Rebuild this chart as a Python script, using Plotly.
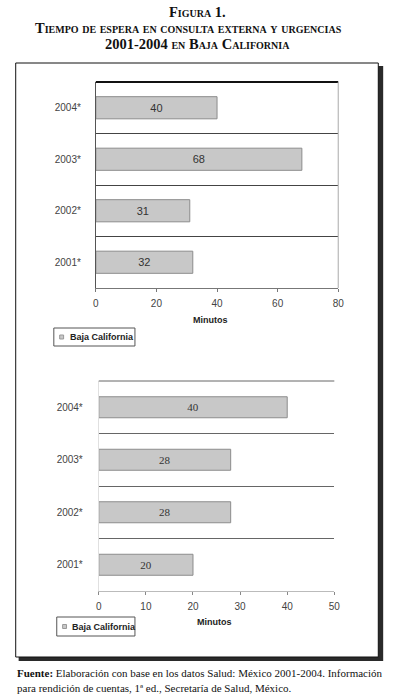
import plotly.graph_objects as go

W, H = 397, 697

years = ["2001*", "2002*", "2003*", "2004*"]
consulta_externa = [32, 31, 68, 40]
urgencias = [20, 28, 28, 40]
ticks_top = [0, 20, 40, 60, 80]
ticks_bottom = [0, 10, 20, 30, 40, 50]
legend_label = "Baja California"
axis_title = "Minutos"


def px(x):
    return x / W


def py(y):
    return 1 - y / H


BAR_FILL = "#c8c8c8"
BAR_LINE = "#8c8c8c"

fig = go.Figure()
fig.add_trace(go.Bar(
    y=years, x=consulta_externa, orientation="h", xaxis="x", yaxis="y",
    width=0.43, marker=dict(color=BAR_FILL, line=dict(color=BAR_LINE, width=1)),
    text=consulta_externa, textposition="inside", insidetextanchor="middle",
    insidetextfont=dict(family="Liberation Sans, Arial", size=11, color="#333"),
    showlegend=False, hoverinfo="skip", cliponaxis=False,
))
fig.add_trace(go.Bar(
    y=years, x=urgencias, orientation="h", xaxis="x2", yaxis="y2",
    width=0.40, marker=dict(color=BAR_FILL, line=dict(color=BAR_LINE, width=1)),
    text=urgencias, textposition="inside", insidetextanchor="middle",
    insidetextfont=dict(family="Liberation Serif, Times New Roman", size=11, color="#333"),
    showlegend=False, hoverinfo="skip", cliponaxis=False,
))

tickfont = dict(family="Liberation Sans, Arial", size=10, color="#444")

fig.update_layout(
    width=W, height=H, margin=dict(l=0, r=0, t=0, b=0),
    paper_bgcolor="white", plot_bgcolor="white",
    xaxis=dict(domain=[px(95), px(343)], range=[0, 80], tickvals=ticks_top,
               anchor="y", showgrid=False, zeroline=False, showline=True,
               linecolor="#777", linewidth=1, ticks="outside", ticklen=3,
               tickcolor="#777", tickfont=tickfont, ticklabelstandoff=3,
               fixedrange=True),
    yaxis=dict(domain=[py(288), py(82)], anchor="x", type="category",
               categoryorder="array", categoryarray=years, range=[-0.5, 3.5],
               tickson="boundaries", showgrid=True, gridcolor="#444", gridwidth=1,
               showline=True, linecolor="#555", linewidth=1, ticks="",
               tickfont=tickfont, ticklabelstandoff=12, fixedrange=True),
    xaxis2=dict(domain=[px(98), px(339)], range=[0, 50], tickvals=ticks_bottom,
                anchor="y2", showgrid=False, zeroline=False, showline=True,
                linecolor="#bbb", linewidth=1, ticks="outside", ticklen=3,
                tickcolor="#888", tickfont=tickfont, ticklabelstandoff=3,
                fixedrange=True),
    yaxis2=dict(domain=[py(591), py(381)], anchor="x2", type="category",
                categoryorder="array", categoryarray=years, range=[-0.5, 3.5],
                tickson="boundaries", showgrid=True, gridcolor="#666", gridwidth=1,
                showline=True, linecolor="#e0e0e0", linewidth=1, ticks="",
                tickfont=tickfont, ticklabelstandoff=13, fixedrange=True),
)

shapes = []
# outer frame shadow and frame
shapes.append(dict(type="rect", xref="paper", yref="paper", layer="below",
                   x0=px(16), x1=px(389), y0=py(661), y1=py(66),
                   fillcolor="#2a2a2a", line=dict(width=0)))
shapes.append(dict(type="rect", xref="paper", yref="paper", layer="below",
                   x0=px(13), x1=px(384), y0=py(657), y1=py(63),
                   fillcolor="white", line=dict(color="#111", width=1)))
# chart 1 top thick line and right border
shapes.append(dict(type="line", xref="x domain", yref="y domain",
                   x0=0, x1=1, y0=1, y1=1, line=dict(color="#111", width=2)))
shapes.append(dict(type="line", xref="x domain", yref="y domain",
                   x0=1, x1=1, y0=0, y1=1, line=dict(color="#aaa", width=1)))
# chart 2 top line
shapes.append(dict(type="line", xref="x2 domain", yref="y2 domain",
                   x0=0, x1=1, y0=1, y1=1, line=dict(color="#666", width=1)))

# legends (custom boxes)
def legend_box(x0, y0, x1, y1):
    shapes.append(dict(type="rect", xref="paper", yref="paper",
                       x0=px(x0), x1=px(x1), y0=py(y1), y1=py(y0),
                       fillcolor="white", line=dict(color="#555", width=1)))
    cy = (y0 + y1) / 2
    shapes.append(dict(type="rect", xref="paper", yref="paper",
                       x0=px(x0 + 6), x1=px(x0 + 10), y0=py(cy + 2), y1=py(cy - 2),
                       fillcolor=BAR_FILL, line=dict(color="#999", width=1)))

legend_box(52, 328, 135, 346)
legend_box(55, 617, 135, 636)

annotations = []

def text(x, y, s, size, family, color="#111", xanchor="center", bold=False, variant=None):
    font = dict(family=family, size=size, color=color)
    if bold:
        font["weight"] = "bold"
    if variant:
        font["variant"] = variant
    annotations.append(dict(x=px(x), y=py(y), xref="paper", yref="paper",
                            text=s, showarrow=False, xanchor=xanchor,
                            yanchor="middle", font=font))

serif = "Liberation Serif, Times New Roman, serif"
sans = "Liberation Sans, Arial, sans-serif"

text(199, 12, "Figura 1.", 14.5, serif, bold=True, variant="small-caps")
text(190, 28, "Tiempo de espera en consulta externa y urgencias", 14.5, serif, bold=True, variant="small-caps")
text(199, 44, "2001-2004 en Baja California", 14.5, serif, bold=True, variant="small-caps")

text(212, 320, axis_title, 9, sans, color="#222", bold=True)
text(216, 622, axis_title, 9, sans, color="#222", bold=True)

text(66, 337, legend_label, 9, sans, color="#222", xanchor="left", bold=True)
text(69, 627, legend_label, 9, sans, color="#222", xanchor="left", bold=True)

text(12, 673, "<b>Fuente:</b> Elaboración con base en los datos Salud: México 2001-2004. Información",
     11, serif, xanchor="left")
text(12, 688, "para rendición de cuentas, 1ª ed., Secretaría de Salud, México.",
     11, serif, xanchor="left")

fig.update_layout(shapes=shapes, annotations=annotations)
fig.write_html("out.html", config={"displayModeBar": False},
               post_script="document.body.style.margin='0';")
